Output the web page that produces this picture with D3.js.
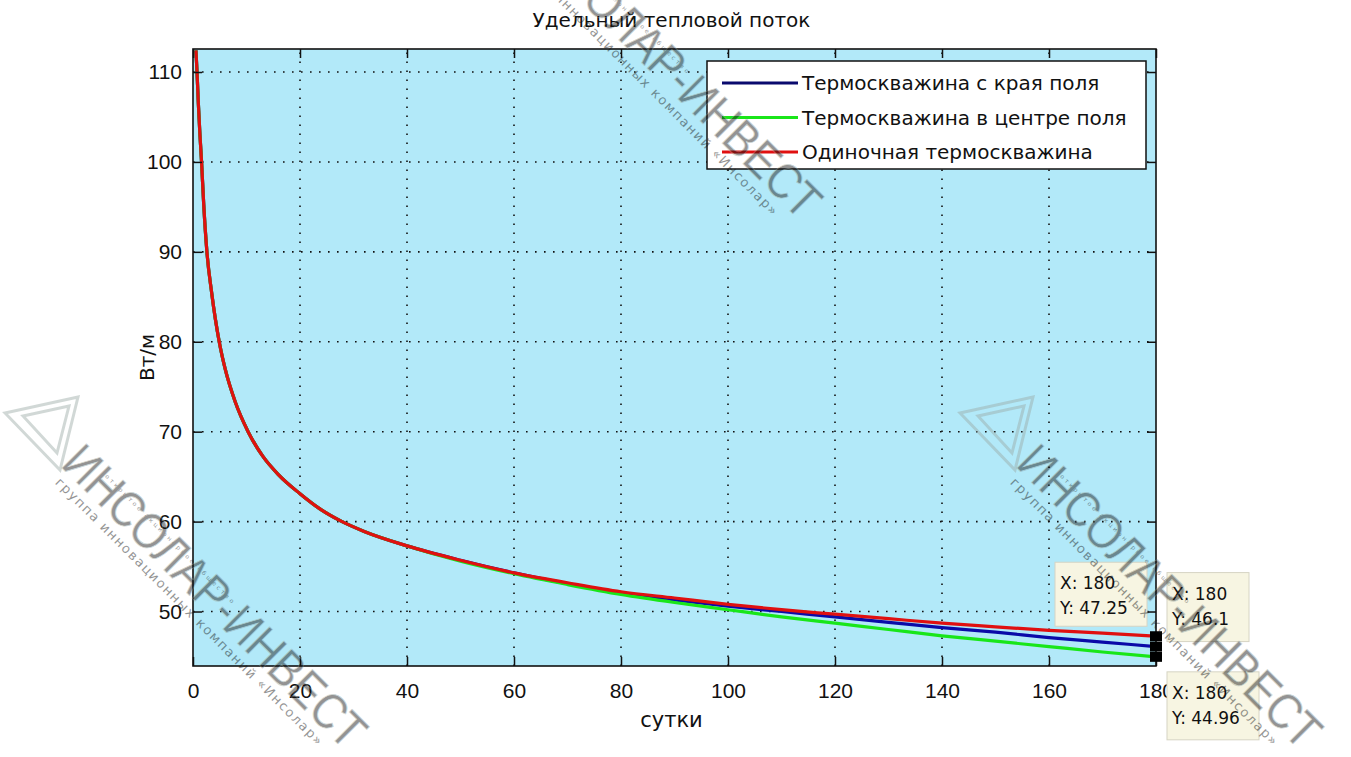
<!DOCTYPE html>
<html>
<head>
<meta charset="utf-8">
<script src="https://cdn.jsdelivr.net/npm/d3@7"></script>
<style>
  body { margin: 0; background: #fff; }
  text { font-family: "DejaVu Sans", sans-serif; fill: #111; }
</style>
</head>
<body>
<script>
// data
var days = [0.55, 0.75, 1, 1.3, 1.6, 2, 2.6, 3.5, 4.9, 6, 7.9, 10.3, 13, 16, 20, 24, 27.5, 32, 40, 50, 60, 70, 80, 90, 100, 110, 120, 130, 140, 150, 160, 170, 180];
var single = [112.4, 110, 106.5, 103, 100, 95.3, 90, 85.4, 80, 77, 73.3, 70, 67.3, 65.2, 63.1, 61.3, 60.1, 58.9, 57.3, 55.7, 54.3, 53.2, 52.2, 51.5, 50.8, 50.2, 49.7, 49.2, 48.7, 48.3, 47.9, 47.6, 47.25];
var edge = [112.4, 110, 106.5, 103, 100, 95.3, 90, 85.4, 80, 77, 73.3, 70, 67.3, 65.2, 63.1, 61.3, 60.1, 58.9, 57.3, 55.7, 54.3, 53.1, 52.1, 51.3, 50.6, 50.0, 49.4, 48.8, 48.2, 47.7, 47.1, 46.6, 46.1];
var center = [112.4, 110, 106.5, 103, 100, 95.3, 90, 85.4, 80, 77, 73.3, 70, 67.3, 65.2, 63.1, 61.3, 60.1, 58.9, 57.3, 55.6, 54.2, 53.0, 51.9, 51.0, 50.2, 49.4, 48.7, 48.0, 47.3, 46.7, 46.1, 45.5, 44.96];

var seriesNames = ["Термоскважина с края поля", "Термоскважина в центре поля", "Одиночная термоскважина"];
var seriesColors = ["#0a0aa8", "#19e619", "#e01010"];
var legendColors = ["#0a0a6e", "#19e619", "#e01010"];
var xTicks = [0, 20, 40, 60, 80, 100, 120, 140, 160, 180];
var yTicks = [50, 60, 70, 80, 90, 100, 110];
var tips = [
  {x: 180, y: 47.25, dx: -101, dy: -74, w: 92, h: 64},
  {x: 180, y: 46.1, dx: 11, dy: -74, w: 82, h: 69},
  {x: 180, y: 44.96, dx: 11, dy: 15, w: 92, h: 68}
];

var W = 1351, H = 757;
var mLeft = 193, mRight = 1156, mTop = 49, mBottom = 666;

var svg = d3.select("body").append("svg")
    .attr("width", W)
    .attr("height", H);

var x = d3.scaleLinear().domain([0, 180]).range([mLeft, mRight]);
var y = d3.scaleLinear().domain([43.94, 112.56]).range([mBottom, mTop]);

// plot background
svg.append("rect")
    .attr("x", mLeft).attr("y", mTop)
    .attr("width", mRight - mLeft).attr("height", mBottom - mTop)
    .attr("fill", "#b2e9f9");

// dotted grid
var grid = svg.append("g")
    .attr("stroke", "#111")
    .attr("stroke-width", 1.6)
    .attr("stroke-dasharray", "1.6,7.4");
grid.selectAll(".gx").data(xTicks.slice(1, -1)).enter().append("line")
    .attr("x1", d => x(d)).attr("x2", d => x(d))
    .attr("y1", mBottom).attr("y2", mTop);
grid.selectAll(".gy").data(yTicks).enter().append("line")
    .attr("x1", mLeft).attr("x2", mRight)
    .attr("y1", d => y(d)).attr("y2", d => y(d));

// curves
var data = [edge, center, single];
var line = d3.line()
    .x((d, i) => x(days[i]))
    .y(d => y(d))
    .curve(d3.curveMonotoneX);
svg.append("g").selectAll("path").data(data).enter().append("path")
    .attr("d", d => line(d))
    .attr("fill", "none")
    .attr("stroke", (d, i) => seriesColors[i])
    .attr("stroke-width", 3.2);

// axes, ticks inside like matlab
var xAxis = d3.axisBottom(x).tickValues(xTicks).tickSizeInner(-9).tickSizeOuter(0).tickPadding(17);
var yAxis = d3.axisLeft(y).tickValues(yTicks).tickSizeInner(-9).tickSizeOuter(0).tickPadding(11);

svg.append("g").attr("transform", "translate(0," + mBottom + ")").call(xAxis);
svg.append("g").attr("transform", "translate(" + mLeft + ",0)").call(yAxis);
svg.append("g").attr("transform", "translate(0," + mTop + ")")
    .call(d3.axisTop(x).tickValues(xTicks).tickSizeInner(-9).tickSizeOuter(0).tickFormat(""));
svg.append("g").attr("transform", "translate(" + mRight + ",0)")
    .call(d3.axisRight(y).tickValues(yTicks).tickSizeInner(-9).tickSizeOuter(0).tickFormat(""));

svg.selectAll(".domain").remove();
svg.selectAll(".tick line").attr("stroke", "#111").attr("stroke-width", 1.5);
svg.selectAll(".tick text")
    .style("font-family", "Liberation Sans, Arial, sans-serif")
    .style("font-size", "21px")
    .attr("fill", "#111");

// box
svg.append("rect")
    .attr("x", mLeft).attr("y", mTop)
    .attr("width", mRight - mLeft).attr("height", mBottom - mTop)
    .attr("fill", "none").attr("stroke", "#111").attr("stroke-width", 1.6);

// titles
svg.append("text")
    .attr("x", (mLeft + mRight) / 2 - 3).attr("y", 27)
    .attr("text-anchor", "middle")
    .style("font-size", "20px")
    .text("Удельный тепловой поток");
svg.append("text")
    .attr("x", (mLeft + mRight) / 2 - 3).attr("y", 727)
    .attr("text-anchor", "middle")
    .style("font-size", "21px")
    .text("сутки");
svg.append("text")
    .attr("transform", "translate(154," + ((mTop + mBottom) / 2) + ") rotate(-90)")
    .attr("text-anchor", "middle")
    .style("font-size", "20px")
    .text("Вт/м");

// legend
var lg = svg.append("g").attr("transform", "translate(707,61)");
lg.append("rect")
    .attr("width", 439).attr("height", 108)
    .attr("fill", "#fff").attr("stroke", "#111").attr("stroke-width", 1.5);
seriesNames.forEach(function(name, i) {
  var yy = 22 + i * 34.5;
  lg.append("line")
      .attr("x1", 15).attr("x2", 91)
      .attr("y1", yy).attr("y2", yy)
      .attr("stroke", legendColors[i]).attr("stroke-width", 3.2);
  lg.append("text")
      .attr("x", 95).attr("y", yy + 7)
      .style("font-size", "20px")
      .text(name);
});

// data tips
tips.forEach(function(t) {
  var px = x(t.x), py = y(t.y);
  svg.append("rect")
      .attr("x", px - 6).attr("y", py - 5)
      .attr("width", 12).attr("height", 10)
      .attr("fill", "#000");
  var g = svg.append("g").attr("transform", "translate(" + (px + t.dx) + "," + (py + t.dy) + ")");
  g.append("rect")
      .attr("width", t.w).attr("height", t.h)
      .attr("fill", "#f7f5e2").attr("stroke", "#d6d4c4").attr("stroke-width", 1);
  g.append("text").attr("x", 5).attr("y", 27).style("font-size", "17px").text("X: " + t.x);
  g.append("text").attr("x", 5).attr("y", 52).style("font-size", "17px").text("Y: " + t.y);
});

// faint watermark overlays
var marks = [[85, 440], [1040, 440], [540, -90]];
var wmColor = "#98a8a3";
marks.forEach(function(m) {
  var wm = svg.append("g")
      .attr("transform", "translate(" + m[0] + "," + m[1] + ") rotate(45)")
      .attr("opacity", 0.45);
  wm.append("text")
      .attr("x", 0).attr("y", 36)
      .attr("textLength", 405).attr("lengthAdjust", "spacingAndGlyphs")
      .style("font-family", "Liberation Sans, sans-serif")
      .style("font-size", "50px")
      .attr("fill", "none").attr("stroke", wmColor).attr("stroke-width", 0.8)
      .text("ИНСОЛАР-ИНВЕСТ");
  wm.append("text")
      .attr("x", 40).attr("y", 12)
      .style("font-size", "6px")
      .style("letter-spacing", "2.6px")
      .attr("fill", wmColor)
      .text("открытое акционерное общество");
  wm.append("text")
      .attr("x", 9).attr("y", 52)
      .style("font-size", "13px")
      .style("letter-spacing", "1.6px")
      .attr("fill", wmColor)
      .text("группа инновационных компаний «Инсолар»");
  // logo
  svg.append("path")
      .attr("transform", "translate(" + m[0] + "," + m[1] + ")")
      .attr("d", "M-80,-27 L-7,-43 L-25,30 Z M-62,-24 L-16,-34 L-28,13 Z")
      .attr("fill", "none").attr("stroke", wmColor).attr("stroke-width", 3)
      .attr("opacity", 0.45);
});
</script>
</body>
</html>
